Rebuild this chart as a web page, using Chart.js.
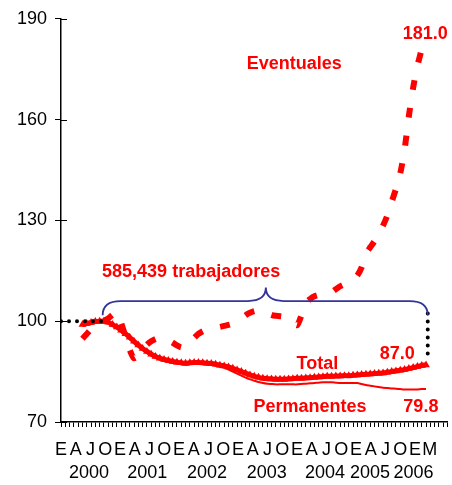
<!DOCTYPE html>
<html>
<head>
<meta charset="utf-8">
<script src="https://cdn.jsdelivr.net/npm/chart.js@4/dist/chart.umd.min.js"></script>
<style>
  body { margin: 0; background: #fff; }
  #wrap { width: 452px; height: 485px; position: relative; }
</style>
</head>
<body>
<div id="wrap"><canvas id="chart"></canvas></div>
<script>
// Datos (índice mensual, base = 100)
const firstMonth = 5;
const lastMonth = 90;
const total = [
  99.0, 99.3, 99.6, 99.9, 100.0, 100.0, 99.7, 99.0, 98.3, 97.3,
  96.3, 95.2, 94.0, 92.9, 91.9, 91.0, 90.2, 89.5, 89.0, 88.6,
  88.3, 88.0, 87.8, 87.6, 87.5, 87.6, 87.7, 87.7, 87.6, 87.5,
  87.4, 87.2, 86.9, 86.7, 86.4, 86.0, 85.5, 85.0, 84.5, 84.0,
  83.6, 83.3, 83.0, 82.9, 82.8, 82.7, 82.7, 82.7, 82.8, 82.9,
  83.0, 83.0, 83.1, 83.2, 83.3, 83.4, 83.5, 83.6, 83.6, 83.7,
  83.7, 83.8, 83.8, 83.9, 84.0, 84.1, 84.2, 84.3, 84.4, 84.5,
  84.6, 84.8, 85.0, 85.2, 85.4, 85.6, 85.9, 86.2, 86.5, 86.8,
  87.0
];
const permanentes = [
  98.6, 98.9, 99.2, 99.5, 99.6, 99.6, 99.3, 98.6, 97.9, 96.9,
  95.9, 94.8, 93.6, 92.5, 91.5, 90.6, 89.8, 89.1, 88.6, 88.2,
  87.9, 87.6, 87.4, 87.2, 87.1, 87.2, 87.3, 87.3, 87.2, 87.1,
  87.0, 86.8, 86.5, 86.1, 85.6, 85.0, 84.4, 83.8, 83.2, 82.7,
  82.3, 81.9, 81.6, 81.4, 81.3, 81.2, 81.2, 81.2, 81.2, 81.2,
  81.2, 81.3, 81.4, 81.5, 81.6, 81.7, 81.8, 81.8, 81.8, 81.7,
  81.6, 81.6, 81.6, 81.6, 81.6, 81.3, 81.0, 80.8, 80.6, 80.4,
  80.2, 80.1, 80.0, 79.9, 79.8, 79.7, 79.7, 79.7, 79.7, 79.8,
  79.8
];
const eventuales = [
  94.8, 96.2, 97.6, 98.6, 99.4, 100.1, 100.8, 101.9, 102.6, 99.5,
  95.5, 91.5, 89.0, 89.8, 91.5, 93.0, 94.0, 94.7, 95.1, 94.9,
  94.3, 93.6, 92.8, 92.2, 92.4, 93.6, 95.0, 96.2, 97.0, 97.5,
  97.8, 98.1, 98.3, 98.6, 98.9, 99.3, 100.0, 100.8, 101.8, 102.5,
  103.0, 103.2, 103.0, 102.5, 101.9, 101.6, 101.5, 101.3, 100.5, 99.6,
  98.8, 101.8, 105.4, 106.6, 107.4, 107.8, 108.0, 108.2, 108.6, 109.5,
  110.4, 111.0, 111.6, 112.3, 113.6, 116.0, 120.0, 122.0, 123.8, 126.0,
  128.5, 131.5, 135.5, 139.4, 144.0, 151.0, 161.0, 169.5, 176.0, 181.0
];
// líneas punteadas de referencia
const baseLine = [{ x: 0, y: 100 }, { x: 9.6, y: 100 }];
const endLine = [{ x: 85.4, y: 102.3 }, { x: 85.4, y: 88.4 }];

// etiquetas de los ejes
const yTicks = [70, 100, 130, 160, 190];
const monthLetters = ['E','A','J','O','E','A','J','O','E','A','J','O','E','A','J','O','E','A','J','O','E','A','J','O','E','M'];
const years = ['2000','2001','2002','2003','2004','2005','2006'];
const yearPos = [1.9, 5.85, 9.9, 13.95, 17.9, 20.95, 23.9];

// textos sobre la gráfica
const notes = [
  { text: 'Eventuales', x: 54.3, y: 176.5 },
  { text: '181.0', x: 84.8, y: 185.4 },
  { text: '585,439 trabajadores', x: 30.3, y: 114.5 },
  { text: 'Total', x: 59.7, y: 87.3 },
  { text: '87.0', x: 78.3, y: 90.2 },
  { text: 'Permanentes', x: 58.0, y: 74.4 },
  { text: '79.8', x: 83.8, y: 74.4 }
];
// llave azul: desde, hasta, punta, base, nivel, pico
const brace = { from: 9.7, to: 85.4, tip: 47.7, base: 101.8, level: 106, peak: 110 };

const RED = '#FF0000';
const FONT = "'Liberation Sans', Arial, sans-serif";

function toPoints(values) {
  return values.map((v, i) => ({ x: firstMonth + i, y: v }));
}

const extras = {
  id: 'extras',
  beforeDatasetsDraw(chart) {
    const ctx = chart.ctx;
    const y = chart.scales.y;
    ctx.save();
    ctx.strokeStyle = '#000';
    ctx.lineWidth = 1;
    yTicks.forEach(t => {
      const py = Math.round(y.getPixelForValue(t)) + 0.5;
      ctx.beginPath();
      ctx.moveTo(chart.chartArea.left, py);
      ctx.lineTo(chart.chartArea.left + 6, py);
      ctx.stroke();
    });
    ctx.restore();
  },
  afterDatasetsDraw(chart) {
    const ctx = chart.ctx;
    const xs = chart.scales.x;
    const ys = chart.scales.y;
    ctx.save();
    // llave
    const x0 = xs.getPixelForValue(brace.from);
    const x1 = xs.getPixelForValue(brace.to);
    const xt = xs.getPixelForValue(brace.tip);
    const yb = ys.getPixelForValue(brace.base);
    const yl = ys.getPixelForValue(brace.level);
    const yp = ys.getPixelForValue(brace.peak);
    const r = 18;
    ctx.strokeStyle = '#333399';
    ctx.lineWidth = 1.8;
    ctx.beginPath();
    ctx.moveTo(x0, yb);
    ctx.quadraticCurveTo(x0, yl, x0 + r, yl);
    ctx.lineTo(xt - r, yl);
    ctx.quadraticCurveTo(xt, yl, xt, yp);
    ctx.quadraticCurveTo(xt, yl, xt + r, yl);
    ctx.lineTo(x1 - r, yl);
    ctx.quadraticCurveTo(x1, yl, x1, yb);
    ctx.stroke();
    // textos
    ctx.fillStyle = RED;
    ctx.font = 'bold 18px ' + FONT;
    ctx.textAlign = 'center';
    ctx.textBaseline = 'middle';
    notes.forEach(n => {
      ctx.fillText(n.text, xs.getPixelForValue(n.x), ys.getPixelForValue(n.y));
    });
    ctx.restore();
  }
};

new Chart(document.getElementById('chart'), {
  type: 'line',
  data: {
    datasets: [
      {
        label: 'base',
        data: baseLine,
        borderColor: '#000',
        borderWidth: 4,
        borderDash: [0, 8],
        borderCapStyle: 'round',
        pointRadius: 0,
        order: -1
      },
      {
        label: 'fin',
        data: endLine,
        borderColor: '#000',
        borderWidth: 4,
        borderDash: [0, 8],
        borderCapStyle: 'round',
        pointRadius: 0,
        order: -1
      },
      {
        label: 'Total',
        data: toPoints(total),
        borderColor: RED,
        backgroundColor: RED,
        borderWidth: 5,
        pointStyle: 'triangle',
        pointRadius: 4.5,
        pointBorderWidth: 0,
        pointBackgroundColor: RED,
        tension: 0.2,
        order: 0
      },
      {
        label: 'Permanentes',
        data: toPoints(permanentes),
        borderColor: RED,
        borderWidth: 2,
        pointRadius: 0,
        tension: 0.2,
        order: 1
      },
      {
        label: 'Eventuales',
        data: toPoints(eventuales),
        borderColor: RED,
        borderWidth: 6,
        borderDash: [10, 18],
        pointRadius: 0,
        tension: 0.25,
        order: 2
      }
    ]
  },
  options: {
    responsive: true,
    maintainAspectRatio: false,
    animation: false,
    layout: { padding: { top: 16, right: 2, bottom: 0, left: 0 } },
    plugins: { legend: { display: false }, tooltip: { enabled: false } },
    scales: {
      x: {
        type: 'linear',
        min: 0,
        max: lastMonth,
        weight: 0,
        afterBuildTicks: s => { s.ticks = Array.from({ length: lastMonth + 1 }, (_, i) => ({ value: i })); },
        afterFit: s => { s.height = 6; },
        ticks: { display: false, autoSkip: false },
        grid: { drawOnChartArea: false, drawTicks: true, tickLength: 5, color: '#000', lineWidth: 1 },
        border: { display: true, color: '#000', width: 1.5 }
      },
      xm: {
        type: 'linear',
        position: 'bottom',
        min: 0,
        max: 26.2,
        weight: 1,
        afterBuildTicks: s => { s.ticks = monthLetters.map((_, i) => ({ value: i })); },
        afterFit: s => { s.height = 32; },
        ticks: {
          autoSkip: false,
          maxRotation: 0,
          padding: 11,
          color: '#000',
          font: { family: FONT, size: 18 },
          callback: (v, i) => monthLetters[i]
        },
        grid: { display: false, drawTicks: false },
        border: { display: false }
      },
      xy: {
        type: 'linear',
        position: 'bottom',
        min: 0,
        max: 26.2,
        weight: 2,
        afterBuildTicks: s => { s.ticks = yearPos.map(p => ({ value: p })); },
        afterFit: s => { s.height = 25; },
        ticks: {
          autoSkip: false,
          maxRotation: 0,
          padding: 2,
          color: '#000',
          font: { family: FONT, size: 18 },
          callback: (v, i) => years[i]
        },
        grid: { display: false, drawTicks: false },
        border: { display: false }
      },
      y: {
        min: 70,
        max: 190,
        afterBuildTicks: s => { s.ticks = yTicks.map(v => ({ value: v })); },
        afterFit: s => { s.width = 61; },
        ticks: { padding: 8, color: '#000', font: { family: FONT, size: 18 } },
        grid: { drawOnChartArea: false, tickLength: 6, color: '#000', lineWidth: 1 },
        border: { display: true, color: '#000', width: 1.5 }
      }
    }
  },
  plugins: [extras]
});
</script>
</body>
</html>
